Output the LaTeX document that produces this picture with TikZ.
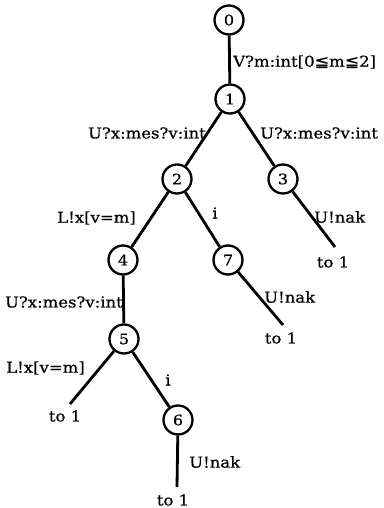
\documentclass[tikz,border=0pt]{standalone}
\usepackage{fontspec}
\setmainfont{DejaVu Serif}[FakeStretch=1.1,FakeBold=0.6]
\newfontfamily\symfam{DejaVu Sans}[FakeStretch=1.15,FakeBold=0.6]
\begin{document}
\begin{tikzpicture}[x=1pt,y=-1pt,
  st/.style={circle,draw,line width=2.3pt,minimum size=29pt,inner sep=0pt,font=\fontsize{14.5}{14.5}\selectfont},
  lab/.style={inner sep=0pt,font=\fontsize{15}{15}\selectfont},
  edge/.style={line width=2.8pt}]
\useasboundingbox (0,0) rectangle (383,508);
\node[st] (n0) at (229,20) {0};
\node[st] (n1) at (230,99) {1};
\node[st] (n2) at (177,179) {2};
\node[st] (n3) at (283,179) {3};
\node[st] (n4) at (123,260) {4};
\node[st] (n7) at (228,260) {7};
\node[st] (n5) at (124,339) {5};
\node[st] (n6) at (178,420) {6};
\coordinate (e3) at (335,247);
\coordinate (e7) at (283,325);
\coordinate (e5) at (70,404);
\coordinate (e6) at (177,487);
\draw[edge] (n0) -- (n1);
\draw[edge] (n1) -- (n2);
\draw[edge] (n1) -- (n3);
\draw[edge] (n2) -- (n4);
\draw[edge] (n2) -- (n7);
\draw[edge] (n3) -- (e3);
\draw[edge] (n4) -- (n5);
\draw[edge] (n7) -- (e7);
\draw[edge] (n5) -- (e5);
\draw[edge] (n5) -- (n6);
\draw[edge] (n6) -- (e6);
\node[lab,anchor=west] (l01) at (233,62) {V?m:int[0{\symfam ≦}m{\symfam ≦}2]};
\node[lab,anchor=east] (l12) at (206,133) {U?x:mes?v:int};
\node[lab,anchor=west] (l13) at (260,133) {U?x:mes?v:int};
\node[lab,anchor=east] (l24) at (136,218) {L!x[v=m]};
\node[lab] (l27) at (215,213) {i};
\node[lab,anchor=west] (l3) at (314,217) {U!nak};
\node[lab,anchor=east] (l45) at (123,302) {U?x:mes?v:int};
\node[lab,anchor=west] (l7) at (264,297) {U!nak};
\node[lab,anchor=west] (l5) at (6,368) {L!x[v=m]};
\node[lab] (l56) at (168,380) {i};
\node[lab,anchor=west] (l6) at (189,462) {U!nak};
\node[lab] (t3) at (333,262) {to 1};
\node[lab] (t7) at (281,338) {to 1};
\node[lab] (t5) at (65,416) {to 1};
\node[lab] (t6) at (173,500) {to 1};
\end{tikzpicture}
\end{document}
